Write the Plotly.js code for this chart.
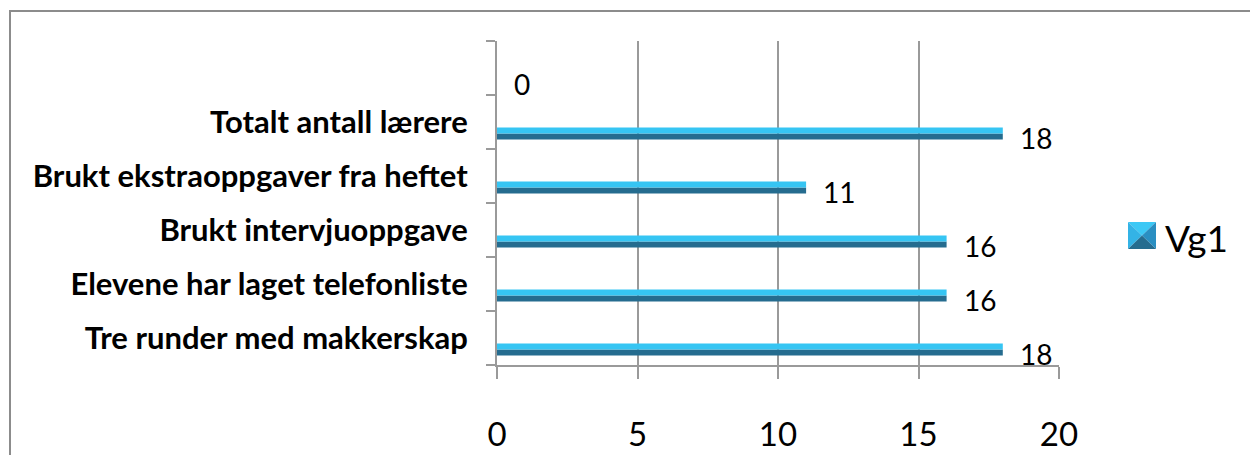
<!DOCTYPE html>
<html><head><meta charset="utf-8">
<script src="https://cdn.plot.ly/plotly-3.0.1.min.js"></script>
<style>
html,body{margin:0;padding:0;background:#fff;overflow:hidden}
#chart{position:absolute;left:0;top:0;width:1250px;height:455px}
#frame{position:absolute;left:9px;top:10px;width:1400px;height:600px;border-left:2px solid #8c8c8c;border-top:2px solid #8c8c8c;pointer-events:none;z-index:2}
</style></head><body>
<div id="chart"></div><div id="frame"></div>
<script>
// Data (bottom to top)
const categories = ["Tre runder med makkerskap", "Elevene har laget telefonliste", "Brukt intervjuoppgave", "Brukt ekstraoppgaver fra heftet", "Totalt antall lærere", " "];
const values = [18, 16, 16, 11, 18, 0];
const xTicks = [0, 5, 10, 15, 20];
const seriesName = "Vg1";

const L = 497, R = 1059, T = 41, B = 365;
const W = 1250, H = 455;
const px = x => (x - L) / (R - L);
const py = y => (B - y) / (B - T);

const light = "#36C5F3", dark = "#256C8F", gray = "#9a9a9a";
const FONT = "Lato, 'Open Sans', sans-serif";

const traces = [
  {type: "bar", orientation: "h", name: seriesName, y: categories, x: values,
   width: 0.111, offset: -0.324, marker: {color: dark}, hoverinfo: "skip", showlegend: false},
  {type: "bar", orientation: "h", name: seriesName, y: categories, x: values,
   width: 0.111, offset: -0.213, marker: {color: light}, hoverinfo: "skip", showlegend: false}
];

const annotations = categories.map((c, i) => ({
  x: values[i], y: c, xref: "x", yref: "y", text: String(values[i]),
  showarrow: false, xanchor: "left", yanchor: "middle", xshift: 15, yshift: -16,
  font: {family: FONT, size: 28, color: "#000"}
}));
annotations.push({
  x: px(1163), y: py(237), xref: "paper", yref: "paper", text: seriesName,
  showarrow: false, xanchor: "left", yanchor: "middle",
  font: {family: FONT, size: 37, color: "#000"}
});

function tri(pts, color) {
  const d = "M" + pts.map(p => px(p[0]) + "," + py(p[1])).join(" L") + " Z";
  return {type: "path", xref: "paper", yref: "paper", path: d, fillcolor: color, line: {width: 0}};
}
const ix0 = 1128, ix1 = 1156, iy0 = 222, iy1 = 249, icx = 1142, icy = 235.5;
const shapes = [
  tri([[ix0, iy0], [ix1, iy0], [icx, icy]], "#3CC8F5"),
  tri([[ix0, iy0], [icx, icy], [ix0, iy1]], "#33B3E6"),
  tri([[ix1, iy0], [ix1, iy1], [icx, icy]], "#2A8FC2"),
  tri([[ix0, iy1], [ix1, iy1], [icx, icy]], "#256C8F")
];

const layout = {
  width: W, height: H,
  margin: {l: L, r: W - R, t: T, b: H - B, pad: 0},
  paper_bgcolor: "#fff", plot_bgcolor: "#fff",
  barmode: "overlay",
  showlegend: false,
  xaxis: {
    range: [0, 20], tickvals: xTicks, ticktext: xTicks.map(String),
    showgrid: true, gridcolor: gray, gridwidth: 2, zeroline: false,
    showline: true, linecolor: gray, linewidth: 2,
    ticks: "outside", ticklen: 12, tickwidth: 2, tickcolor: gray,
    ticklabelstandoff: 27,
    tickfont: {family: FONT, size: 33, color: "#000"}, fixedrange: true
  },
  yaxis: {
    type: "category", categoryorder: "array", categoryarray: categories,
    range: [-0.5, 5.5], tickson: "boundaries",
    showgrid: false, zeroline: false,
    showline: true, linecolor: gray, linewidth: 2,
    ticks: "outside", ticklen: 9, tickwidth: 2, tickcolor: gray,
    ticklabelstandoff: 21,
    tickfont: {family: FONT, size: 31, color: "#000", weight: 700}, fixedrange: true
  },
  annotations: annotations,
  shapes: shapes
};

Plotly.newPlot("chart", traces, layout, {staticPlot: true, displayModeBar: false});
</script>
</body></html>
